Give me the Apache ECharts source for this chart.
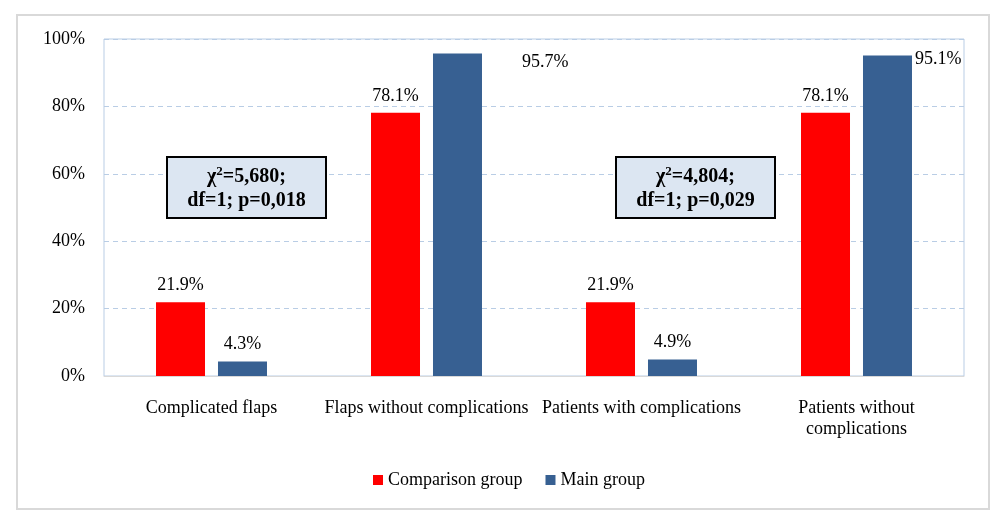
<!DOCTYPE html>
<html>
<head>
<meta charset="utf-8">
<script src="https://cdn.jsdelivr.net/npm/echarts@6/dist/echarts.min.js"></script>
<style>html,body{margin:0;padding:0;background:#fff;}#c{width:1007px;height:521px;}</style>
</head>
<body>
<div id="c"></div>
<script>
var categories = ['Complicated flaps', 'Flaps without complications', 'Patients with complications', 'Patients without\ncomplications'];
var comparisonGroup = [21.9, 78.1, 21.9, 78.1];
var mainGroup = [4.3, 95.7, 4.9, 95.1];
var seriesNames = ['Comparison group', 'Main group'];
var yTicks = [0, 20, 40, 60, 80, 100];
var statChi = ['5,680;', '4,804;'];
var statP = ['df=1; p=0,018', 'df=1; p=0,029'];

var FONT = "'Liberation Serif', 'Times New Roman', serif";
var chart = echarts.init(document.getElementById('c'));

function pct(p) { return p.value.toFixed(1) + '%'; }

var mainData = mainGroup.map(function (v, i) {
  if (i === 1) return { value: v, label: { position: [89, 0] } };
  if (i === 3) return { value: v, label: { position: [52, -5] } };
  return v;
});

var boxPos = [[167, 157], [616, 157]];
var graphics = [{
  type: 'rect', z: -1, silent: true,
  shape: { x: 17, y: 15, width: 972, height: 494 },
  style: { fill: '#fff', stroke: '#d9d9d9', lineWidth: 2 }
}];
statChi.forEach(function (c, i) {
  graphics.push({
    type: 'rect', z: 100,
    shape: { x: boxPos[i][0], y: boxPos[i][1], width: 159, height: 61 },
    style: { fill: '#dce6f2', stroke: '#000', lineWidth: 2 }
  });
  graphics.push({
    type: 'text', z: 101,
    x: boxPos[i][0] + 79.5, y: boxPos[i][1] + 32,
    style: {
      text: '{b|χ}{s|2}{b|=' + c + '}\n{b|' + statP[i] + '}',
      fill: '#000',
      align: 'center', verticalAlign: 'middle',
      rich: {
        b: { fontFamily: FONT, fontWeight: 'bold', fontSize: 20, lineHeight: 24, fill: '#000' },
        s: { fontFamily: FONT, fontWeight: 'bold', fontSize: 13, lineHeight: 24, verticalAlign: 'top', padding: [0, 0, 6, 0], fill: '#000' }
      }
    }
  });
});

chart.setOption({
  animation: false,
  textStyle: { fontFamily: FONT },
  grid: {
    left: 104, right: 43, top: 39, bottom: 145,
    show: true, borderColor: '#b9cde5', borderWidth: 1, backgroundColor: 'transparent'
  },
  legend: {
    data: seriesNames,
    left: 373, top: 471, padding: 0,
    icon: 'rect', itemWidth: 10, itemHeight: 10, itemGap: 23,
    textStyle: { fontFamily: FONT, fontSize: 18, color: '#000' }
  },
  xAxis: {
    type: 'category',
    data: categories,
    axisLine: { show: true, lineStyle: { color: '#d9d9d9', width: 1 } },
    axisTick: { show: false },
    axisLabel: { fontFamily: FONT, fontSize: 18, color: '#000', margin: 22, lineHeight: 21, interval: 0 },
    z: 10
  },
  yAxis: {
    type: 'value',
    min: 0, max: 100, interval: 20,
    axisLine: { show: false },
    axisTick: { show: false },
    axisLabel: {
      fontFamily: FONT, fontSize: 18, color: '#000', margin: 19,
      formatter: function (v) { return yTicks.indexOf(v) >= 0 ? v + '%' : ''; }
    },
    splitLine: { show: true, lineStyle: { color: '#b9cde5', type: [5, 4], width: 1 } }
  },
  series: [{
    name: seriesNames[0],
    type: 'bar',
    data: comparisonGroup,
    barWidth: 49,
    barGap: '26.5%',
    itemStyle: { color: '#ff0000' },
    label: { show: true, position: 'top', distance: 8, formatter: pct, fontFamily: FONT, fontSize: 18, color: '#000' }
  }, {
    name: seriesNames[1],
    type: 'bar',
    data: mainData,
    barWidth: 49,
    barGap: '26.5%',
    itemStyle: { color: '#376092' },
    label: { show: true, position: 'top', distance: 8, formatter: pct, fontFamily: FONT, fontSize: 18, color: '#000' }
  }],
  graphic: graphics
});
</script>
</body>
</html>
